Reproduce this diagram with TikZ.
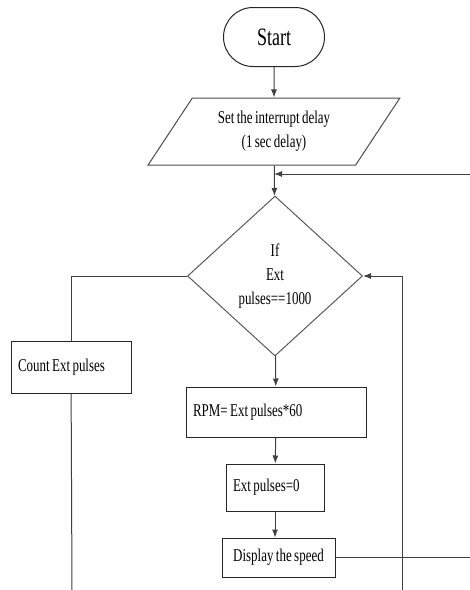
\documentclass[tikz,border=0pt]{standalone}
\usepackage{fontspec}
\setmainfont{Liberation Serif}[FakeStretch=0.72,WordSpace=0.75]
\usetikzlibrary{shapes.geometric,shapes.misc,arrows.meta}
\begin{document}
\begin{tikzpicture}
  [
    x=1pt,y=-1pt,
    inner sep=0mm,
    font=\fontsize{18}{24}\selectfont,
    terminal/.style={rounded rectangle,draw=black!85,line width=1pt,minimum width=101pt,minimum height=59pt,font=\fontsize{25}{30}\selectfont},
    io/.style={trapezium,trapezium left angle=53,trapezium right angle=127,trapezium stretches=true,draw=black!70,line width=1pt,minimum width=252pt,minimum height=67pt,align=center},
    decision/.style={diamond,draw=black!65,line width=1pt,minimum width=175pt,minimum height=160pt,align=center},
    process/.style={rectangle,draw=black!85,line width=1pt,inner xsep=7pt},
    link/.style={draw=black!75,line width=1pt},
    flow/.style={link,-{Latex[length=8pt,width=6pt]}},
  ]
  \useasboundingbox (0,0) rectangle (470,590);
  \node (start) at (274,37) [terminal] {Start};
  \node (delay) at (274,131.5) [io] {Set the interrupt delay\\(1 sec delay)};
  \node (test) at (275,276) [decision] {If\\Ext\\pulses==1000};
  \node (count) at (71,367) [process,minimum width=120pt,minimum height=52pt,text width=106pt,align=flush left] {Count Ext pulses};
  \node (rpm) at (276,412) [process,minimum width=180pt,minimum height=50pt,text width=166pt,align=flush left] {RPM= Ext pulses*60};
  \node (zero) at (275,487.5) [process,minimum width=98pt,minimum height=47pt,text width=84pt,align=flush left] {Ext pulses=0};
  \node (show) at (278.5,557.5) [process,minimum width=113pt,minimum height=39pt] {Display the speed};
  \coordinate (loopin) at (470,174);
  \coordinate (countend) at (72,590);
  \coordinate (showend) at (470,557.5);
  \coordinate (loopbot) at (402,590);

  \draw [flow] (start) -- (delay);
  \draw [flow] (delay) -- (test);
  \draw [flow] (loopin) -- (delay.south |- loopin);
  \draw [link] (test.west) -| (count.north);
  \draw [link] (count) -- (countend);
  \draw [flow] (test) -- (rpm);
  \draw [flow] (rpm) -- (zero);
  \draw [flow] (zero) -- (show.north -| zero);
  \draw [link] (show) -- (showend);
  \draw [flow] (loopbot) |- (test.east);
\end{tikzpicture}
\end{document}
